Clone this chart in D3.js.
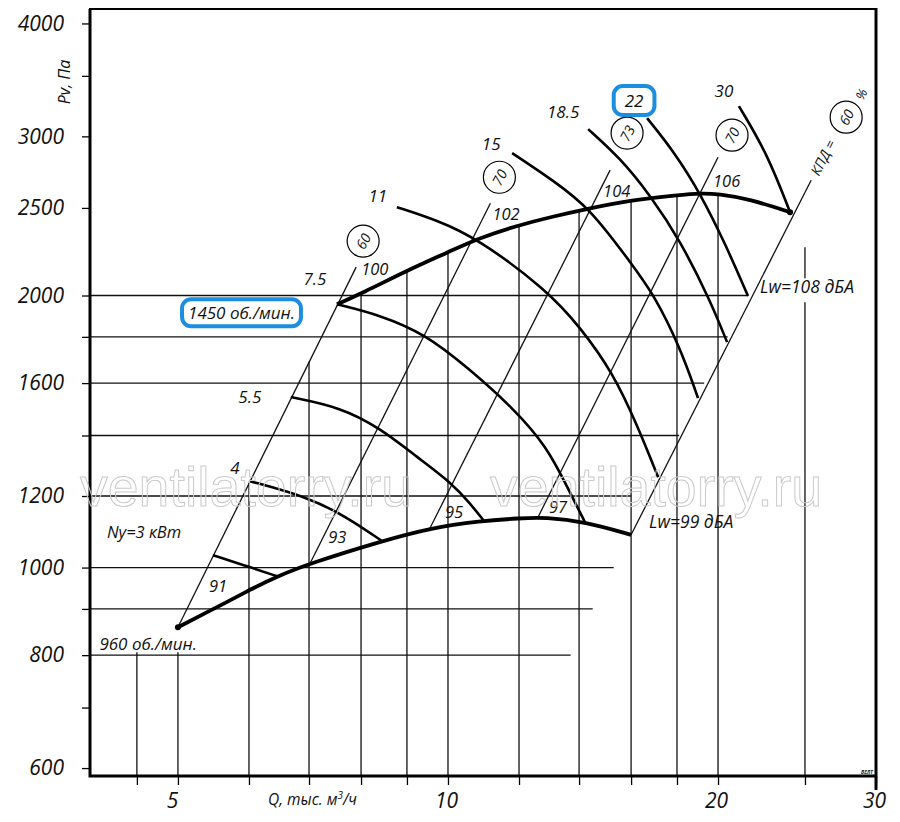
<!DOCTYPE html>
<meta charset="utf-8">
<style>
    body { margin: 0; background: #fff; }
    svg text { font-family: "Open Sans", "Noto Sans", sans-serif; font-style: italic; fill: #111; }
    .grid line { stroke: #111; stroke-width: 1.3; }
    .diag { stroke: #111; stroke-width: 1.3; fill: none; }
    .curve { fill: none; stroke: #000; stroke-width: 2.6; }
    .bound { fill: none; stroke: #000; stroke-width: 3.8; }
    .frame { stroke: #000; fill: none; }
    .wm { font-family: "Liberation Sans", Arial, sans-serif; font-style: normal; fill: none; stroke: #cacaca; stroke-width: 1; }
</style>
<svg id="chart" width="900" height="822"></svg>
<script src="https://cdn.jsdelivr.net/npm/d3@7/dist/d3.min.js"></script>
<script>
    var qTicks = [4.5, 5, 6, 7, 8, 9, 10, 12, 14, 16, 18, 20, 25, 30];
    var qLabels = [5, 10, 20, 30];
    var pTicks = [600, 700, 800, 900, 1000, 1200, 1400, 1600, 1800, 2000, 2500, 3000, 3500, 4000];
    var pLabels = [600, 800, 1000, 1200, 1600, 2000, 2500, 3000, 4000];

    // horizontal grid: [Pv, Q where the line stops]
    var gridP = [[2000, 21.6], [1800, 20.5], [1600, 19.3], [1400, 18.1], [1200, 16.0], [1000, 15.3], [900, 14.5], [800, 13.7]];
    // vertical grid: [Q, Pv top, Pv bottom]
    var gridQ = [[4.5, 806, 588], [5, 806, 588], [6, 1240, 588], [7, 1690, 588], [8, 2012, 588], [9, 2133, 588],
        [10, 2233, 588], [12, 2393, 588], [14, 2486, 588], [16, 2550, 588], [18, 2583, 588], [20, 2590, 588],
        [25, 2262, 2090], [25, 1966, 588]];

    // motor power, kW
    var powers = ["3", "4", "5.5", "7.5", "11", "15", "18.5", "22", "30"];
    var curve3 = [[5.47, 1032], [5.91, 1007], [6.45, 978]];
    var curve4 = [[6.0, 1247], [6.98, 1197], [7.72, 1137], [8.44, 1070]];
    var curve55 = [[6.68, 1544], [7.58, 1505], [8.40, 1427], [9.24, 1325], [10.10, 1240], [10.58, 1178], [10.97, 1126]];
    var curve75 = [[7.52, 1956], [8.40, 1903], [9.43, 1813], [10.50, 1667], [11.82, 1502], [12.90, 1359], [13.58, 1228], [14.21, 1123]];
    var curve11 = [[8.77, 2505], [9.72, 2423], [10.78, 2314], [12.90, 2027], [14.04, 1845], [15.28, 1641], [16.25, 1438], [17.15, 1259]];
    var curve15 = [[11.79, 2875], [13.09, 2683], [14.40, 2498], [15.96, 2178], [16.93, 2012], [18.14, 1754], [19.0, 1540]];
    var curve185 = [[14.33, 3056], [15.56, 2838], [16.80, 2583], [18.14, 2303], [19.59, 1977], [20.47, 1776]];
    var curve22 = [[16.67, 3143], [17.91, 2875], [19.10, 2596], [20.36, 2286], [21.6, 1997]];
    var curve30 = [[21.1, 3240], [22.68, 2875], [24.06, 2473]];
    var powerCurves = [curve3, curve4, curve55, curve75, curve11, curve15, curve185, curve22, curve30];

    var upper1450 = [[7.52, 1956], [8.02, 2012], [9.02, 2133], [10.0, 2233], [10.8, 2314], [12.0, 2393], [13.0, 2442],
        [14.4, 2498], [16.0, 2550], [18.05, 2583], [19.2, 2596], [20.0, 2590], [21.7, 2557], [24.06, 2473]];
    var lower960 = [[5.0, 859], [5.72, 920], [6.0, 944], [6.45, 978], [7.02, 1011], [8.44, 1070], [9.55, 1106],
        [10.86, 1126], [12.03, 1134], [12.83, 1137], [14.21, 1124], [16.0, 1087]];

    // constant efficiency lines, [bottom, top]
    var effLines = [[[5.0, 859], [7.9, 2150]], [[7.02, 1011], [11.15, 2530]], [[9.55, 1106], [15.16, 2753]],
        [[12.6, 1137], [20.0, 2845]], [[16.0, 1087], [25.4, 2683]]];
    var effValues = [60, 70, 73, 70, 60];
    var lwTop = ["100", "102", "104", "106"];
    var lwBottom = ["91", "93", "95", "97"];

    var svg = d3.select("#chart");
    var x = d3.scaleLog().domain([4, 30]).range([91, 876]);
    var y = d3.scaleLog().domain([588, 4150]).range([776, 9]);
    var line = d3.line()
        .x(function (d) { return x(d[0]); })
        .y(function (d) { return y(d[1]); })
        .curve(d3.curveBasis);

    function label(str, px, py, size, anchor) {
        return svg.append("text").attr("x", px).attr("y", py)
            .attr("font-size", size).attr("text-anchor", anchor || "start").text(str);
    }

    // grid
    var grid = svg.append("g").attr("class", "grid");
    grid.selectAll(".h").data(gridP).enter().append("line")
        .attr("x1", x(4)).attr("x2", function (d) { return x(d[1]); })
        .attr("y1", function (d) { return y(d[0]); }).attr("y2", function (d) { return y(d[0]); });
    grid.selectAll(".v").data(gridQ).enter().append("line")
        .attr("x1", function (d) { return x(d[0]); }).attr("x2", function (d) { return x(d[0]); })
        .attr("y1", function (d) { return y(d[1]); }).attr("y2", function (d) { return y(d[2]); });

    // axes
    var yAxis = d3.axisLeft(y).tickValues(pTicks).tickSize(8).tickPadding(18)
        .tickFormat(function (d) { return pLabels.indexOf(d) >= 0 ? d : ""; });
    svg.append("g").attr("transform", "translate(90,0)").call(yAxis)
        .call(function (g) { g.select(".domain").remove(); })
        .call(function (g) { g.selectAll("line").attr("stroke", "#000").attr("stroke-width", 1.3); })
        .call(function (g) { g.selectAll("text").attr("font-size", 21); });

    var xAxis = d3.axisBottom(x).tickValues(qTicks).tickSize(9).tickPadding(8)
        .tickFormat(function (d) { return qLabels.indexOf(d) >= 0 ? d : ""; });
    svg.append("g").attr("transform", "translate(0,776)").call(xAxis)
        .call(function (g) { g.select(".domain").remove(); })
        .call(function (g) { g.selectAll("line").attr("stroke", "#000").attr("stroke-width", 1.3); })
        .call(function (g) { g.selectAll("text").attr("font-size", 21).attr("dx", function (d) { return d < 10 ? -6 : -2; }); });

    svg.append("path").attr("class", "frame").attr("stroke-width", 3)
        .attr("d", "M90," + y(4150) + "V776H" + x(30));
    svg.append("path").attr("class", "frame").attr("stroke-width", 2)
        .attr("d", "M89," + y(4150) + "H" + x(30));
    svg.append("path").attr("class", "frame").attr("stroke-width", 3)
        .attr("d", "M" + x(30) + "," + (y(4150) - 1) + "V790");
    svg.append("text").attr("x", x(30) - 3).attr("y", 774).attr("font-size", 5)
        .attr("font-weight", "bold").attr("text-anchor", "end").text("ВЕЛТ");

    // efficiency lines
    svg.selectAll(".diag").data(effLines).enter().append("path")
        .attr("class", "diag")
        .attr("d", function (d) { return "M" + x(d[0][0]) + "," + y(d[0][1]) + "L" + x(d[1][0]) + "," + y(d[1][1]); });

    // power curves and range boundaries
    svg.selectAll(".curve").data(powerCurves).enter().append("path")
        .attr("class", "curve").attr("d", line);
    svg.append("path").attr("class", "bound").attr("d", line(upper1450));
    svg.append("path").attr("class", "bound").attr("d", line(lower960));
    svg.append("circle").attr("cx", x(upper1450[upper1450.length - 1][0])).attr("cy", y(upper1450[upper1450.length - 1][1])).attr("r", 3);
    svg.append("circle").attr("cx", x(lower960[0][0])).attr("cy", y(lower960[0][1])).attr("r", 3);

    // power labels
    var powOff = [[-106, -17], [-14, -7], [-41, 6], [-22, -19], [-19, -5], [-21, -3], [-25, -11], [-13, -11], [-15, -9]];
    powerCurves.forEach(function (c, i) {
        var px = x(c[0][0]) + powOff[i][0], py = y(c[0][1]) + powOff[i][1];
        if (i === 0) label("Ny=" + powers[i] + " кВт", px, py, 16.5, "start");
        else {
            var t = label(powers[i], px, py, 17, "middle");
            if (powers[i] === "22") t.attr("id", "p22");
        }
    });

    // Lw labels
    var topOff = [[5, 8], [2, 17], [-7, 27], [-5, 30]];
    lwTop.forEach(function (s, i) {
        var e = effLines[i][1];
        label(s, x(e[0]) + topOff[i][0], y(e[1]) + topOff[i][1], 16.5);
    });
    label("Lw=108 дБА", x(gridP[0][1]) + 12, y(gridP[0][0]) - 3, 17.5);
    var botOff = [[31, -35], [18, -20], [15, -10], [11, -4]];
    lwBottom.forEach(function (s, i) {
        var e = effLines[i][0];
        label(s, x(e[0]) + botOff[i][0], y(e[1]) + botOff[i][1], 16.5);
    });
    label("Lw=99 дБА", x(effLines[4][0][0]) + 18, y(effLines[4][0][1]) - 7, 17.5);

    // efficiency circles
    var effOff = [[7, -26], [9, -26], [17, -37], [14, -22], [35, -63]];
    effValues.forEach(function (v, i) {
        var e = effLines[i][1];
        var cx = x(e[0]) + effOff[i][0], cy = y(e[1]) + effOff[i][1];
        svg.append("circle").attr("cx", cx).attr("cy", cy).attr("r", 16)
            .attr("fill", "#fff").attr("stroke", "#000").attr("stroke-width", 1.2);
        svg.append("text").attr("x", cx).attr("y", cy).attr("font-size", 14)
            .attr("text-anchor", "middle").attr("dominant-baseline", "central")
            .attr("transform", "rotate(-62," + cx + "," + cy + ")").text(v);
    });
    var d5 = effLines[4][1];
    var kx = x(d5[0]) + 3, ky = y(d5[1]) - 6;
    svg.append("text").attr("x", kx).attr("y", ky).attr("font-size", 14)
        .attr("dominant-baseline", "central")
        .attr("transform", "rotate(-63," + kx + "," + ky + ")").text("КПД =");
    var px2 = x(d5[0]) + 50, py2 = y(d5[1]) - 86;
    svg.append("text").attr("x", px2).attr("y", py2).attr("font-size", 13)
        .attr("text-anchor", "middle").attr("dominant-baseline", "central")
        .attr("transform", "rotate(-63," + px2 + "," + py2 + ")").text("%");

    // speed labels
    var t1450 = label("1450 об./мин.", x(upper1450[0][0]) - 42, y(upper1450[0][1]) + 15, 17, "end");
    label("960 об./мин.", x(lower960[0][0]) + 19, y(lower960[0][1]) + 23, 17, "end");

    // axis titles
    svg.append("text").attr("transform", "translate(70,82) rotate(-90)")
        .attr("font-size", 16).attr("text-anchor", "middle").text("Pv, Па");
    var qt = svg.append("text").attr("x", 268).attr("y", 805).attr("font-size", 15.5);
    qt.append("tspan").text("Q, тыс. м");
    qt.append("tspan").attr("font-size", 10).attr("dy", -6).text("3");
    qt.append("tspan").attr("dy", 6).text("/ч");

    // highlight boxes
    function box(sel, padX, padY) {
        var b = sel.node().getBBox();
        svg.append("rect").attr("x", b.x - padX).attr("y", b.y - padY)
            .attr("width", b.width + 2 * padX).attr("height", b.height + 2 * padY)
            .attr("rx", 9).attr("fill", "none").attr("stroke", "#1c8edf").attr("stroke-width", 4);
    }
    box(t1450, 6, 2);
    box(d3.select("#p22"), 11, 3);

    // watermark
    svg.append("text").attr("class", "wm").attr("x", 80).attr("y", 506).attr("font-size", 55.5).text("ventilatorry.ru");
    svg.append("text").attr("class", "wm").attr("x", 490).attr("y", 506).attr("font-size", 55.5).text("ventilatorry.ru");
</script>
